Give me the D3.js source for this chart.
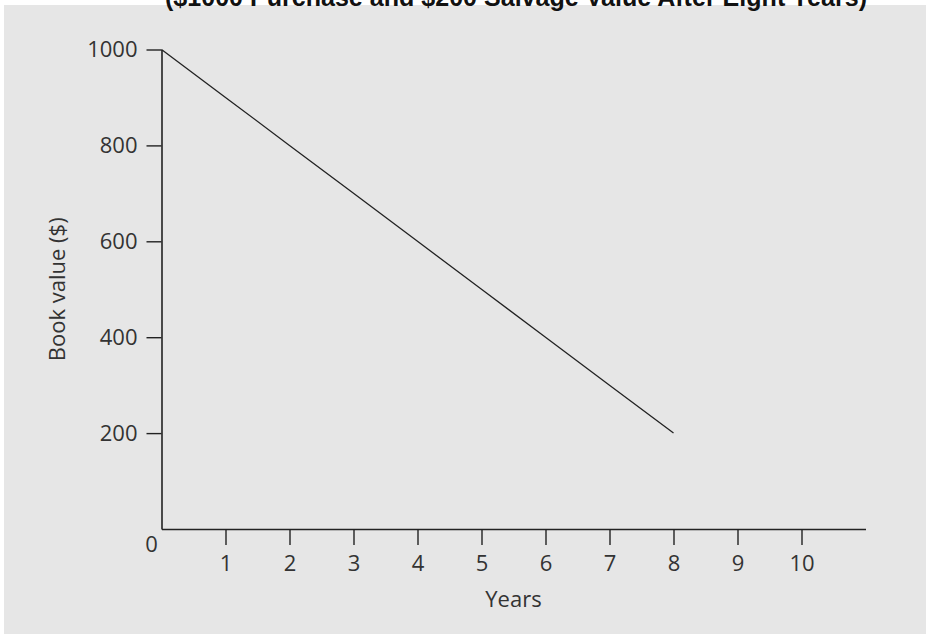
<!DOCTYPE html>
<html>
<head>
<meta charset="utf-8">
<script src="https://cdn.jsdelivr.net/npm/d3@7"></script>
<style>
  html, body { margin: 0; padding: 0; background: #ffffff; }
  svg { display: block; }
</style>
</head>
<body>
<svg id="chart" width="926" height="635"></svg>
<script>
// ---- data ----
const years = [0, 1, 2, 3, 4, 5, 6, 7, 8];
const bookValues = [1000, 900, 800, 700, 600, 500, 400, 300, 200];
const xTickValues = [1, 2, 3, 4, 5, 6, 7, 8, 9, 10];
const xTickLabels = ["1", "2", "3", "4", "5", "6", "7", "8", "9", "10"];
const yTickValues = [200, 400, 600, 800, 1000];
const yTickLabels = ["200", "400", "600", "800", "1000"];
const titleText = "($1000 Purchase and $200 Salvage Value After Eight Years)";
const xAxisTitle = "Years";
const yAxisTitle = "Book value ($)";
const originLabel = "0";

// ---- layout ----
const svg = d3.select("#chart");
const labelFont = "'Open Sans', 'DejaVu Sans', sans-serif";
const ink = "#222222";
const textInk = "#333333";

svg.append("rect")
  .attr("x", 4).attr("y", 5)
  .attr("width", 922).attr("height", 629)
  .attr("fill", "#e6e6e6");

const x = d3.scaleLinear().domain([0, 11]).range([161.5, 865.5]);
const y = d3.scaleLinear().domain([0, 1000]).range([529, 49.5]);

// x axis
const xAxis = d3.axisBottom(x)
  .tickValues(xTickValues)
  .tickFormat((d, i) => xTickLabels[i])
  .tickSize(16)
  .tickPadding(10)
  .tickSizeOuter(0);
const gx = svg.append("g").attr("transform", `translate(0,${y(0)})`).call(xAxis);
gx.select(".domain").attr("stroke", ink).attr("stroke-width", 1.6);
gx.selectAll(".tick line").attr("stroke", ink).attr("stroke-width", 1.4);
gx.selectAll(".tick text")
  .attr("fill", textInk)
  .style("font-family", labelFont)
  .style("font-size", "22px");

// y axis
const yAxis = d3.axisLeft(y)
  .tickValues(yTickValues)
  .tickFormat((d, i) => yTickLabels[i])
  .tickSize(15)
  .tickPadding(9)
  .tickSizeOuter(0);
const gy = svg.append("g").attr("transform", `translate(${x(0)},0)`).call(yAxis);
gy.select(".domain").attr("stroke", ink).attr("stroke-width", 1.6);
gy.selectAll(".tick line").attr("stroke", ink).attr("stroke-width", 1.4);
gy.selectAll(".tick text")
  .attr("fill", textInk)
  .style("font-family", labelFont)
  .style("font-size", "22px");

// origin label
svg.append("text")
  .attr("x", x(0) - 10)
  .attr("y", y(0) + 23)
  .attr("text-anchor", "middle")
  .attr("fill", textInk)
  .style("font-family", labelFont)
  .style("font-size", "22px")
  .text(originLabel);

// line
const line = d3.line()
  .x((d, i) => x(years[i]))
  .y(d => y(d));
svg.append("path")
  .datum(bookValues)
  .attr("d", line)
  .attr("fill", "none")
  .attr("stroke", ink)
  .attr("stroke-width", 1.3);

// axis titles
svg.append("text")
  .attr("x", (x(0) + x(11)) / 2)
  .attr("y", 607)
  .attr("text-anchor", "middle")
  .attr("fill", textInk)
  .style("font-family", labelFont)
  .style("font-size", "22px")
  .text(xAxisTitle);

svg.append("text")
  .attr("transform", `translate(65,${(y(0) + y(1000)) / 2}) rotate(-90)`)
  .attr("text-anchor", "middle")
  .attr("fill", textInk)
  .style("font-family", labelFont)
  .style("font-size", "22px")
  .text(yAxisTitle);

// title (cut off at top)
svg.append("text")
  .attr("x", 516)
  .attr("y", 6)
  .attr("text-anchor", "middle")
  .attr("textLength", 702)
  .attr("lengthAdjust", "spacingAndGlyphs")
  .attr("fill", "#111111")
  .style("font-family", "'Liberation Sans', Arial, sans-serif")
  .style("font-weight", "bold")
  .style("font-size", "25px")
  .text(titleText);
</script>
</body>
</html>
